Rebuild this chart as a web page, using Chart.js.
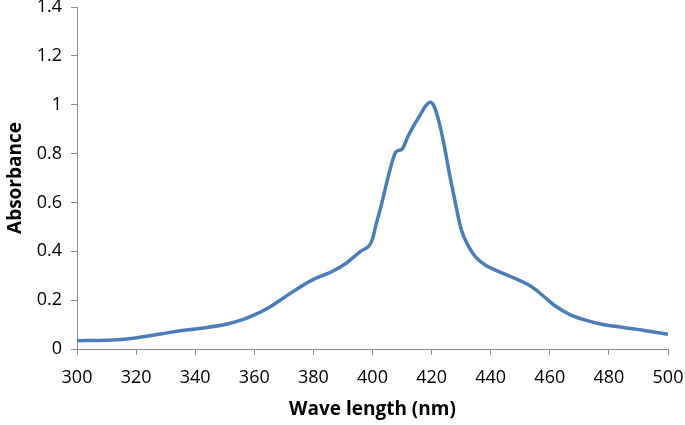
<!DOCTYPE html>
<html>
<head>
<meta charset="utf-8">
<script src="https://cdn.jsdelivr.net/npm/chart.js@4"></script>
<style>
  html, body { margin: 0; padding: 0; background: #fff; }
  #wrap { width: 685px; height: 425px; position: relative; }
</style>
</head>
<body>
<div id="wrap"><canvas id="spectrum"></canvas></div>
<script>
// wavelength (nm) and absorbance
const wavelengths = [300, 310, 316, 325, 333, 342, 350, 356, 360, 365, 370, 375, 380, 386, 391, 394, 396, 399, 400, 401, 403, 405, 407, 408, 410, 412, 414, 416, 418, 419.5, 421, 422.5, 424, 426, 428, 430, 432.5, 435, 438, 443, 448, 452, 455, 458, 462, 467, 473, 478, 485, 492, 500];
const absorbance = [0.034, 0.036, 0.040, 0.055, 0.071, 0.085, 0.100, 0.120, 0.140, 0.170, 0.210, 0.250, 0.285, 0.315, 0.350, 0.380, 0.400, 0.425, 0.45, 0.50, 0.59, 0.69, 0.78, 0.808, 0.818, 0.87, 0.915, 0.955, 0.995, 1.01, 0.99, 0.93, 0.85, 0.72, 0.60, 0.49, 0.42, 0.375, 0.345, 0.316, 0.29, 0.268, 0.245, 0.215, 0.175, 0.14, 0.115, 0.100, 0.088, 0.076, 0.060];
const xTitle = 'Wave length (nm)';
const yTitle = 'Absorbance';

const axisGrey = '#8c8c8c';
const font = { family: "'Open Sans', sans-serif", size: 18 };
const titleFont = { family: "'Open Sans', sans-serif", size: 19, weight: 'bold' };

const ctx = document.getElementById('spectrum').getContext('2d');
new Chart(ctx, {
  type: 'line',
  data: {
    datasets: [{
      label: yTitle,
      data: wavelengths.map((w, i) => ({ x: w, y: absorbance[i] })),
      borderColor: '#4a7ebb',
      borderWidth: 3.5,
      pointRadius: 0,
      tension: 0.4,
      cubicInterpolationMode: 'monotone',
      fill: false,
    }]
  },
  options: {
    responsive: true, maintainAspectRatio: false,
    animation: false,
    layout: { padding: { top: 7, right: 17, left: 0, bottom: 0 } },
    plugins: { legend: { display: false }, tooltip: { enabled: false } },
    scales: {
      x: {
        type: 'linear', min: 300, max: 500,
        ticks: { stepSize: 20, color: '#000', font, padding: 12, maxRotation: 0 },
        grid: { drawOnChartArea: false, drawTicks: true, tickLength: 6, color: axisGrey },
        border: { color: axisGrey, width: 1 },
        title: { display: true, text: xTitle, color: '#000', font: titleFont, padding: { top: 4 } },
        afterFit: s => { s.height = 76; s.paddingLeft = 0; s.paddingRight = 0; }
      },
      y: {
        min: 0, max: 1.4,
        ticks: { stepSize: 0.2, color: '#000', font, padding: 9,
          callback: v => String(Math.round(v * 10) / 10) },
        grid: { drawOnChartArea: false, drawTicks: true, tickLength: 6, color: axisGrey },
        border: { color: axisGrey, width: 1 },
        title: { display: true, text: yTitle, color: '#000', font: titleFont, padding: { bottom: 2 } },
        afterFit: s => { s.width = 77; s.paddingTop = 0; s.paddingBottom = 0; }
      }
    }
  }
});
</script>
</body>
</html>
